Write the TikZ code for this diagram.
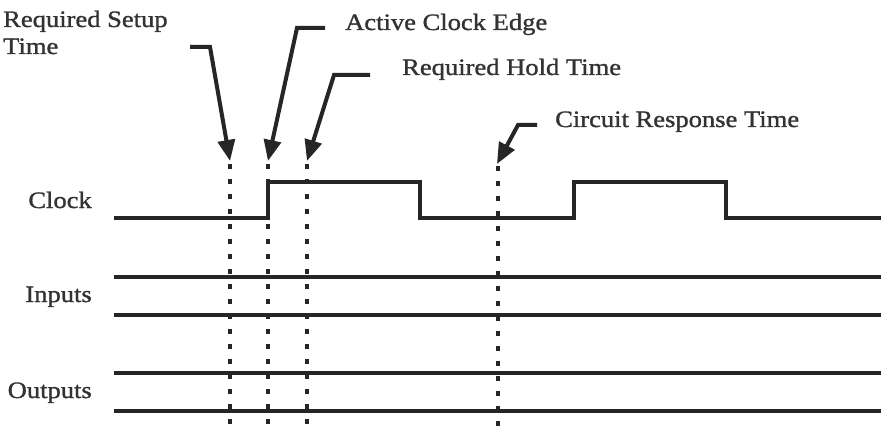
\documentclass[tikz,border=0pt]{standalone}
\usepackage{fontspec}
\setmainfont[FakeStretch=1.13,FakeBold=1.2]{Liberation Serif}
\usetikzlibrary{calc,arrows.meta}
\definecolor{ink}{gray}{0.15}
\definecolor{txt}{gray}{0.2}
\tikzset{
  sig/.style={line width=4pt, line join=miter, color=ink},
  guide/.style={line width=4.5pt, color=ink, dash pattern=on 5pt off 10pt},
  callout/.style={line width=4pt, color=ink, -{Triangle[length=21pt,width=17pt]}},
  lbl/.style={anchor=base west, inner sep=0pt, font=\fontsize{23.5}{27}\selectfont, text=txt},
  siglbl/.style={anchor=base east, inner sep=0pt, font=\fontsize{23.5}{27}\selectfont, text=txt}
}
\begin{document}
\begin{tikzpicture}[x=1pt,y=1pt]
\fill[white] (0,0) rectangle (884,-433);
\useasboundingbox (0,0) rectangle (884,-433);
% guide lines
\coordinate (s1) at (230,-164); \coordinate (s2) at (230,-430);
\coordinate (a1) at (268,-164); \coordinate (a2) at (268,-430);
\coordinate (h1) at (307,-164); \coordinate (h2) at (307,-430);
\coordinate (c1) at (498,-166); \coordinate (c2) at (498,-430);
\draw[guide] (s1) -- (s2);
\draw[guide] (a1) -- (a2);
\draw[guide] (h1) -- (h2);
\draw[guide] (c1) -- (c2);
% signals
\coordinate (clk0) at (114,-218);
\draw[sig] (clk0) -- (268,-218) -- (268,-182) -- (420,-182) -- (420,-218) -- (574,-218) -- (574,-182) -- (726,-182) -- (726,-218) -- (881,-218);
\coordinate (in1a) at (114,-277); \coordinate (in1b) at (881,-277);
\coordinate (in2a) at (114,-315); \coordinate (in2b) at (881,-315);
\coordinate (out1a) at (114,-373); \coordinate (out1b) at (881,-373);
\coordinate (out2a) at (114,-411); \coordinate (out2b) at (881,-411);
\draw[sig] (in1a) -- (in1b);
\draw[sig] (in2a) -- (in2b);
\draw[sig] (out1a) -- (out1b);
\draw[sig] (out2a) -- (out2b);
% labels
\node[siglbl] (clock) at (92,-208) {Clock};
\node[siglbl] (inputs) at (92,-302) {Inputs};
\node[siglbl] (outputs) at (92,-398) {Outputs};
\node[lbl] (setup1) at (3,-27) {Required Setup};
\node[lbl] (setup2) at (3,-54) {Time};
\node[lbl] (edge) at (345,-30) {Active Clock Edge};
\node[lbl] (hold) at (402,-75) {Required Hold Time};
\node[lbl] (resp) at (555,-127) {Circuit Response Time};
% callouts
\coordinate (sst) at (190,-47); \coordinate (sbend) at (210,-47); \coordinate (stip) at (230,-161);
\coordinate (ast) at (325,-28); \coordinate (abend) at (297,-28); \coordinate (atip) at (268,-161);
\coordinate (hst) at (370,-75); \coordinate (hbend) at (334,-75); \coordinate (htip) at (307,-161);
\coordinate (cst) at (537,-125); \coordinate (cbend) at (518,-125); \coordinate (ctip) at (497,-164);
\draw[callout] (sst) -- (sbend) -- (stip);
\draw[callout] (ast) -- (abend) -- (atip);
\draw[callout] (hst) -- (hbend) -- (htip);
\draw[callout] (cst) -- (cbend) -- (ctip);
\end{tikzpicture}
\end{document}
